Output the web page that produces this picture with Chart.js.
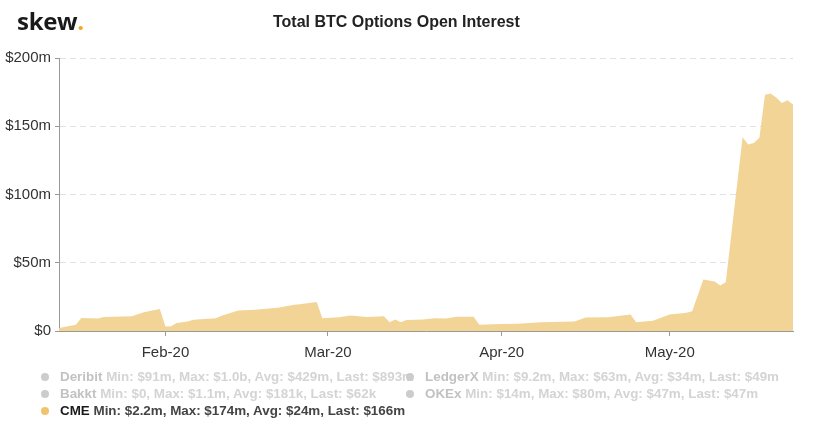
<!DOCTYPE html>
<html><head><meta charset="utf-8">
<script src="https://cdn.jsdelivr.net/npm/chart.js@4.4.0/dist/chart.umd.min.js"></script>
<style>
html,body{margin:0;padding:0;background:#fff;}
#wrap{position:relative;width:827px;height:431px;overflow:hidden;font-family:"Liberation Sans",Arial,Helvetica,sans-serif;}
#c{position:absolute;left:0;top:0;}
#logo{position:absolute;left:17px;top:4px;font-family:"Open Sans",sans-serif;font-weight:700;font-size:24px;color:#1a1a1a;letter-spacing:-0.3px;line-height:34px}
#logo span{color:#f5a623}
#title{position:absolute;left:273px;top:12px;font-weight:700;font-size:16px;color:#222;line-height:20px;white-space:nowrap}
.lg{position:absolute;font-weight:700;font-size:13.4px;white-space:nowrap;line-height:17px}
.dot{position:absolute;width:8px;height:8px;border-radius:50%}
</style></head>
<body>
<div id="wrap">
<canvas id="c" width="827" height="431"></canvas>
<div id="logo">skew<span>.</span></div>
<div id="title">Total BTC Options Open Interest</div>
<div id="legend"></div>
</div>
<script>
const startDate = '2020-01-13';
const dates = ['2020-01-13','2020-01-16','2020-01-17','2020-01-20','2020-01-21','2020-01-26','2020-01-28','2020-01-29','2020-01-31',
 '2020-02-01','2020-02-02','2020-02-03','2020-02-05','2020-02-06','2020-02-10','2020-02-11','2020-02-14','2020-02-17','2020-02-21','2020-02-24','2020-02-25','2020-02-28','2020-02-29',
 '2020-03-03','2020-03-05','2020-03-08','2020-03-11','2020-03-12','2020-03-13','2020-03-14','2020-03-15','2020-03-18','2020-03-20','2020-03-22','2020-03-24','2020-03-27','2020-03-28',
 '2020-04-01','2020-04-04','2020-04-08','2020-04-14','2020-04-16','2020-04-20','2020-04-24','2020-04-25','2020-04-28',
 '2020-05-01','2020-05-04','2020-05-05','2020-05-07','2020-05-08','2020-05-09','2020-05-10','2020-05-11','2020-05-14','2020-05-15','2020-05-16','2020-05-17','2020-05-18','2020-05-19','2020-05-20','2020-05-21','2020-05-22','2020-05-23'];
const cmeValues = [2.2,4.5,9.5,9.2,10.3,10.8,13.5,14.5,16.2,
 3.3,3.5,5.8,7,8.2,9.3,11.2,15,15.5,17,19.2,19.6,21.3,9.4,
 10,11.3,10.3,10.8,6.5,8.4,6.5,8,8.4,9.4,9.2,10.5,10.5,4.5,
 5.2,5.4,6.5,7,9.9,10,12,6.5,7.6,
 12,13.4,14.5,37.7,37,36.2,33.3,35.7,142,136.6,137.8,141.5,173,174,171,167,169,166];
const monthTicks = ['2020-02-01','2020-03-01','2020-04-01','2020-05-01'];
const monthLabels = ['Feb-20','Mar-20','Apr-20','May-20'];
const yTickValues = [0,50,100,150,200];

const legendNames = ['Deribit','LedgerX','Bakkt','OKEx','CME'];
const legendStats = ['Min: $91m, Max: $1.0b, Avg: $429m, Last: $893m',
 'Min: $9.2m, Max: $63m, Avg: $34m, Last: $49m',
 'Min: $0, Max: $1.1m, Avg: $181k, Last: $62k',
 'Min: $14m, Max: $80m, Avg: $47m, Last: $47m',
 'Min: $2.2m, Max: $174m, Avg: $24m, Last: $166m'];
const legendActive = [false,false,false,false,true];

const t0 = Date.parse(startDate);
const dayIndex = d => Math.round((Date.parse(d) - t0) / 864e5);
const points = dates.map((d,i) => ({x: dayIndex(d), y: cmeValues[i]}));
const fam = '"Liberation Sans", Arial, Helvetica, sans-serif';

// legend
const lg = document.getElementById('legend');
legendNames.forEach((n,i) => {
  const col = i % 2, row = Math.floor(i / 2);
  const cy = 377 + row * 17;
  const tx = col === 0 ? 60 : 425;
  const dx = col === 0 ? 41 : 406;
  const t = document.createElement('div');
  t.className = 'lg';
  t.style.left = tx + 'px'; t.style.top = (cy - 9) + 'px'; t.style.zIndex = col + 1;
  t.innerHTML = '<span style="color:' + (legendActive[i] ? '#1a1a1a' : '#c2c2c2') + '">' + n + '</span> <span style="color:' + (legendActive[i] ? '#444' : '#d4d4d4') + '">' + legendStats[i] + '</span>';
  lg.appendChild(t);
  const d = document.createElement('div');
  d.className = 'dot';
  d.style.left = dx + 'px'; d.style.top = (cy - 4) + 'px'; d.style.zIndex = 5;
  d.style.background = legendActive[i] ? '#f1c36e' : '#cccccc';
  lg.appendChild(d);
});

new Chart(document.getElementById('c'), {
  type: 'line',
  data: { datasets: [{ label: 'CME', data: points, fill: 'origin', backgroundColor: 'rgb(242,212,150)', borderWidth: 0, borderColor: 'rgb(242,212,150)', pointRadius: 0, tension: 0 }] },
  options: {
    responsive: false, animation: false,
    layout: { padding: { top: 58, right: 34, bottom: 70, left: 0 } },
    plugins: { legend: { display: false }, tooltip: { enabled: false }, title: { display: false } },
    scales: {
      x: {
        type: 'linear', min: 0, max: dayIndex(dates[dates.length - 1]),
        afterBuildTicks: s => { s.ticks = monthTicks.map(d => ({ value: dayIndex(d) })); },
        ticks: { callback: (v, i) => monthLabels[i], font: { family: fam, size: 15 }, color: '#333', padding: 8, maxRotation: 0, autoSkip: false },
        grid: { drawOnChartArea: false, drawTicks: true, tickLength: 5, tickColor: '#999', tickWidth: 1 },
        border: { color: '#999', width: 1 },
        afterFit: s => { s.height = 30; }
      },
      y: {
        min: 0, max: 200,
        afterBuildTicks: s => { s.ticks = yTickValues.map(v => ({ value: v })); },
        ticks: { callback: v => v === 0 ? '$0' : '$' + v + 'm', font: { family: fam, size: 15 }, color: '#333', padding: 4 },
        grid: { color: c => (c.tick && c.tick.value === 0) ? 'rgba(0,0,0,0)' : '#e2e2e2', lineWidth: 1, tickLength: 4, tickColor: '#999', tickWidth: 1 },
        border: { color: '#999', width: 1, dash: [6, 4] },
        afterFit: s => { s.width = 59; }
      }
    }
  }
});
</script>
</body></html>
